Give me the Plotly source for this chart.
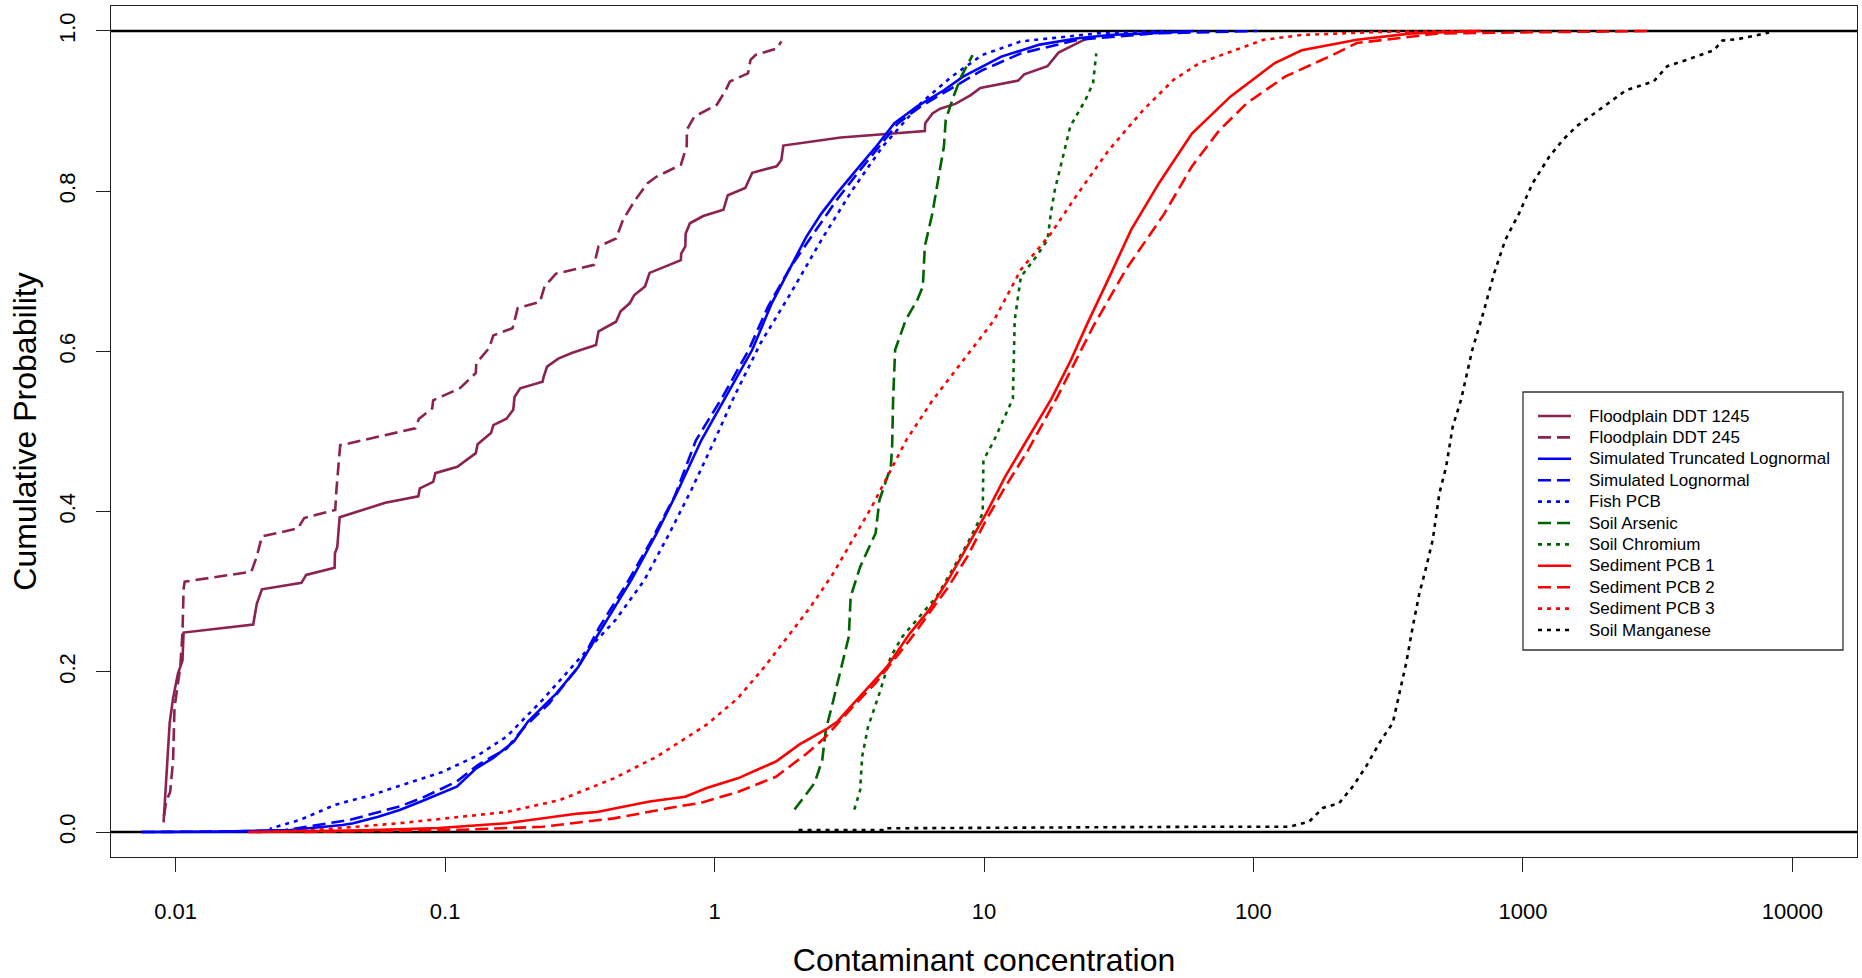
import plotly.graph_objects as go

# ---------------------------------------------------------------------------
# Empirical cumulative distributions: concentration vs. cumulative probability
# ---------------------------------------------------------------------------
ddt1245_conc = [0.00902, 0.0091, 0.00936, 0.0095, 0.00978, 0.0102, 0.0106, 0.0107,
                0.0194, 0.0200, 0.0209, 0.0293, 0.0305, 0.0389, 0.0390, 0.0398, 0.0406,
                0.0600, 0.0795, 0.0806, 0.0903, 0.0920, 0.1110, 0.130, 0.132, 0.148,
                0.151, 0.169, 0.179, 0.181, 0.190, 0.230, 0.232, 0.239, 0.263, 0.295,
                0.363, 0.371, 0.431, 0.448, 0.484, 0.503, 0.552, 0.574, 0.750, 0.752,
                0.779, 0.781, 0.810, 0.908, 1.079, 1.12, 1.30, 1.38, 1.70, 1.77, 1.80,
                2.94, 6.03, 6.05, 6.44, 6.87, 7.83, 8.93, 9.69, 13.4, 14.1, 17.2, 18.9,
                24.2]
ddt1245_prob = [0.012, 0.035, 0.105, 0.136, 0.167, 0.198, 0.214, 0.249,
                0.259, 0.285, 0.303, 0.311, 0.321, 0.330, 0.348, 0.356, 0.393,
                0.411, 0.419, 0.429, 0.437, 0.448, 0.456, 0.473, 0.484, 0.498,
                0.508, 0.516, 0.527, 0.543, 0.554, 0.562, 0.568, 0.581, 0.591, 0.598,
                0.608, 0.625, 0.637, 0.650, 0.660, 0.670, 0.681, 0.698, 0.714, 0.722,
                0.731, 0.747, 0.760, 0.769, 0.777, 0.795, 0.804, 0.823, 0.831, 0.839, 0.857,
                0.867, 0.875, 0.885, 0.897, 0.903, 0.909, 0.920, 0.929, 0.938, 0.946, 0.956, 0.973,
                0.991]

ddt245_conc = [0.00905, 0.00923, 0.00954, 0.00978, 0.0099, 0.0104, 0.0106, 0.0107, 0.0108,
               0.0191, 0.0200, 0.0209, 0.0284, 0.0300, 0.0391, 0.0395, 0.0408, 0.0438,
               0.0775, 0.0800, 0.0896, 0.0903, 0.1135, 0.130, 0.1305, 0.1455, 0.151,
               0.178, 0.186, 0.225, 0.234, 0.258, 0.357, 0.371, 0.431, 0.457, 0.503,
               0.564, 0.608, 0.750, 0.788, 0.790, 0.841, 1.02, 1.10, 1.14, 1.33, 1.36,
               1.42, 1.70, 1.77]
ddt245_prob = [0.020, 0.039, 0.050, 0.089, 0.155, 0.206, 0.249, 0.303, 0.3125,
               0.325, 0.344, 0.369, 0.379, 0.392, 0.402, 0.427, 0.483, 0.485,
               0.504, 0.516, 0.529, 0.539, 0.554, 0.573, 0.585, 0.604, 0.620,
               0.629, 0.654, 0.662, 0.681, 0.697, 0.708, 0.731, 0.741, 0.764, 0.787,
               0.810, 0.818, 0.833, 0.856, 0.877, 0.893, 0.908, 0.926, 0.937, 0.947, 0.964,
               0.970, 0.978, 0.987]

trunc_lognorm_conc = [0.0075, 0.015, 0.0267, 0.0416, 0.0456, 0.0565, 0.0678, 0.0814,
                      0.1105, 0.1305, 0.150, 0.180, 0.203, 0.259, 0.312, 0.398, 0.492,
                      0.610, 0.733, 0.893, 1.10, 1.38, 1.63, 1.92, 2.19, 2.49, 2.84,
                      3.35, 3.94, 4.65, 5.65, 7.10, 8.36, 11.6, 16.1, 22.3, 29.2, 46.8, 60.0]
trunc_lognorm_prob = [0.0, 0.0005, 0.0025, 0.0087, 0.011, 0.019, 0.0275, 0.038,
                      0.0566, 0.0795, 0.092, 0.113, 0.138, 0.173, 0.206, 0.265, 0.315,
                      0.373, 0.427, 0.489, 0.543, 0.602, 0.660, 0.706, 0.743, 0.772, 0.797,
                      0.826, 0.854, 0.885, 0.906, 0.926, 0.943, 0.968, 0.983, 0.991, 0.995, 0.998, 1.0]

lognorm_conc = [0.0075, 0.015, 0.025, 0.0442, 0.0678, 0.0814, 0.1105, 0.1327, 0.169,
                0.197, 0.244, 0.312, 0.374, 0.464, 0.574, 0.711, 0.853, 1.07, 1.34,
                1.58, 1.92, 2.34, 2.84, 3.46, 4.08, 4.80, 5.83, 7.58, 9.85, 13.7, 22.3,
                42.9, 103.0]
lognorm_prob = [0.0, 0.0005, 0.002, 0.015, 0.032, 0.042, 0.063, 0.084, 0.104,
                0.131, 0.161, 0.206, 0.256, 0.306, 0.360, 0.419, 0.489, 0.543, 0.602,
                0.656, 0.706, 0.748, 0.789, 0.826, 0.856, 0.885, 0.906, 0.929, 0.951, 0.972, 0.989,
                0.997, 1.0]

fish_pcb_conc = [0.0223, 0.0226, 0.0289, 0.0391, 0.0531, 0.0721, 0.0977, 0.1327, 0.169,
                 0.230, 0.312, 0.43, 0.55, 0.68, 0.82, 1.0, 1.18, 1.48, 1.92, 2.49,
                 3.24, 4.21, 5.12, 5.83, 7.58, 9.85, 13.7, 26.3, 47.0]
fish_pcb_prob = [0.001, 0.0046, 0.015, 0.034, 0.046, 0.061, 0.075, 0.096, 0.119,
                 0.165, 0.215, 0.265, 0.315, 0.373, 0.427, 0.489, 0.543, 0.610, 0.673, 0.739,
                 0.801, 0.856, 0.889, 0.910, 0.943, 0.970, 0.987, 0.997, 1.0]

arsenic_conc = [1.98, 2.35, 2.51, 2.59, 2.72, 2.95, 3.15, 3.20, 3.36, 3.47, 3.96, 4.09,
                4.51, 4.56, 4.60, 4.68, 5.12, 5.65, 5.93, 6.03, 6.43, 6.87, 7.10, 7.21,
                7.70, 8.23, 9.07]
arsenic_prob = [0.028, 0.061, 0.090, 0.128, 0.156, 0.206, 0.244, 0.294, 0.315, 0.331, 0.373, 0.414,
                0.456, 0.481, 0.541, 0.602, 0.639, 0.664, 0.681, 0.731, 0.772, 0.831, 0.856, 0.889,
                0.918, 0.943, 0.970]

chromium_conc = [3.30, 3.47, 3.53, 3.71, 4.09, 4.30, 4.51, 4.98, 5.86, 6.68, 7.62, 8.68,
                 9.89, 9.95, 10.9, 12.8, 13.0, 13.7, 15.6, 17.2, 17.7, 18.3, 19.9, 20.9,
                 23.8, 25.4, 26.1]
chromium_prob = [0.028, 0.052, 0.094, 0.131, 0.173, 0.198, 0.219, 0.244, 0.271, 0.294, 0.327, 0.360,
                 0.398, 0.464, 0.489, 0.541, 0.639, 0.693, 0.718, 0.739, 0.772, 0.801, 0.851, 0.881,
                 0.914, 0.935, 0.972]

sed_pcb1_conc = [0.0186, 0.05, 0.095, 0.169, 0.312, 0.366, 0.574, 0.778, 0.935, 1.22, 1.69,
                 2.06, 2.59, 2.86, 3.25, 3.96, 4.36, 5.31, 6.25, 7.37, 8.68, 10.2, 12.0,
                 14.2, 17.8, 21.0, 24.2, 29.2, 35.2, 44.6, 59.1, 82.1, 120.0, 151.0, 242.0,
                 387.0, 679.0]
sed_pcb1_prob = [0.0, 0.002, 0.005, 0.011, 0.023, 0.025, 0.038, 0.044, 0.055, 0.067, 0.088,
                 0.109, 0.128, 0.138, 0.159, 0.190, 0.206, 0.248, 0.277, 0.315, 0.356, 0.398, 0.444,
                 0.485, 0.541, 0.589, 0.635, 0.693, 0.752, 0.810, 0.872, 0.918, 0.960, 0.976, 0.989,
                 0.997, 1.0]

sed_pcb2_conc = [0.03, 0.12, 0.230, 0.423, 0.733, 0.88, 1.22, 1.69, 2.20, 2.59, 3.25, 3.96,
                 5.31, 6.25, 7.37, 8.68, 10.2, 12.0, 14.6, 18.7, 25.4, 33.6, 46.7, 59.1,
                 74.7, 94.6, 131.0, 191.0, 242.0, 489.0, 2900.0]
sed_pcb2_prob = [0.0, 0.003, 0.0066, 0.017, 0.032, 0.036, 0.050, 0.069, 0.098, 0.119, 0.156, 0.186,
                 0.240, 0.273, 0.306, 0.344, 0.390, 0.431, 0.477, 0.543, 0.631, 0.702, 0.772, 0.831,
                 0.876, 0.910, 0.943, 0.968, 0.985, 0.997, 1.0]

sed_pcb3_conc = [0.02, 0.033, 0.0678, 0.169, 0.267, 0.423, 0.610, 0.935, 1.22, 1.53, 1.87,
                 2.27, 2.76, 3.25, 3.83, 4.51, 5.14, 6.44, 8.36, 10.9, 13.7, 17.7, 22.3,
                 29.0, 38.9, 50.5, 63.1, 86.1, 109.0, 151.0, 305.0, 700.0]
sed_pcb3_prob = [0.0, 0.0025, 0.011, 0.025, 0.040, 0.067, 0.094, 0.134, 0.167, 0.206, 0.244,
                 0.281, 0.323, 0.365, 0.406, 0.452, 0.489, 0.539, 0.589, 0.639, 0.702, 0.747, 0.797,
                 0.851, 0.901, 0.939, 0.960, 0.976, 0.989, 0.995, 0.999, 1.0]

manganese_conc = [2.05, 4.20, 4.22, 16.2, 66.9, 136.0, 161.0, 181.0, 208.0, 234.0, 262.0,
                  298.0, 329.0, 348.0, 369.0, 390.0, 413.0, 438.0, 463.0, 490.0, 519.0,
                  549.0, 590.0, 649.0, 713.0, 783.0, 860.0, 967.0, 1087.0, 1252.0, 1407.0,
                  1582.0, 2000.0, 2415.0, 3055.0, 3436.0, 4050.0, 5120.0, 5495.0, 6320.0, 8200.0]
manganese_prob = [0.0025, 0.0025, 0.0046, 0.006, 0.0066, 0.0066, 0.013, 0.030, 0.036, 0.057, 0.082,
                  0.115, 0.136, 0.173, 0.211, 0.256, 0.298, 0.331, 0.365, 0.423, 0.456,
                  0.506, 0.540, 0.602, 0.648, 0.698, 0.739, 0.772, 0.810, 0.843, 0.864,
                  0.881, 0.906, 0.926, 0.937, 0.956, 0.964, 0.976, 0.988, 0.990, 0.998]

x_tick_values = [0.01, 0.1, 1, 10, 100, 1000, 10000]
x_tick_labels = ["0.01", "0.1", "1", "10", "100", "1000", "10000"]
y_tick_values = [0.0, 0.2, 0.4, 0.6, 0.8, 1.0]
y_tick_labels = ["0.0", "0.2", "0.4", "0.6", "0.8", "1.0"]

# ---------------------------------------------------------------------------
# Styling
# ---------------------------------------------------------------------------
PURPLE = "#8B2252"
BLUE = "#0000FF"
GREEN = "#006400"
RED = "#FF0000"
BLACK = "#000000"
SOLID = "solid"
DASHED = "13px,6px"
DOTTED = "4px,5px"
LINE_W = 2.6
FONT = "Liberation Sans, Arial, Helvetica, sans-serif"

series = [
    ("Floodplain DDT 1245", ddt1245_conc, ddt1245_prob, PURPLE, SOLID),
    ("Floodplain DDT 245", ddt245_conc, ddt245_prob, PURPLE, DASHED),
    ("Simulated Truncated Lognormal", trunc_lognorm_conc, trunc_lognorm_prob, BLUE, SOLID),
    ("Simulated Lognormal", lognorm_conc, lognorm_prob, BLUE, DASHED),
    ("Fish PCB", fish_pcb_conc, fish_pcb_prob, BLUE, DOTTED),
    ("Soil Arsenic", arsenic_conc, arsenic_prob, GREEN, DASHED),
    ("Soil Chromium", chromium_conc, chromium_prob, GREEN, DOTTED),
    ("Sediment PCB 1", sed_pcb1_conc, sed_pcb1_prob, RED, SOLID),
    ("Sediment PCB 2", sed_pcb2_conc, sed_pcb2_prob, RED, DASHED),
    ("Sediment PCB 3", sed_pcb3_conc, sed_pcb3_prob, RED, DOTTED),
    ("Soil Manganese", manganese_conc, manganese_prob, BLACK, DOTTED),
]

W, H = 1862, 978
M_L, M_R, M_T, M_B = 111, 5, 6, 121
PLOT_W = W - M_L - M_R
PLOT_H = H - M_T - M_B


def px_x(px):
    """Page pixel column -> paper x fraction."""
    return (px - M_L) / PLOT_W


def px_y(py):
    """Page pixel row -> paper y fraction."""
    return (H - M_B - py) / PLOT_H


fig = go.Figure()
for name, conc, prob, color, dash in series:
    fig.add_trace(go.Scatter(
        x=conc, y=prob, mode="lines", name=name, showlegend=False,
        line=dict(color=color, width=LINE_W, dash=dash),
    ))

# Reference lines at probability 0 and 1
shapes = []
for level in (0.0, 1.0):
    shapes.append(dict(type="line", xref="paper", yref="y", x0=0, x1=1, y0=level, y1=level,
                       line=dict(color="black", width=2.6), layer="below"))

# Legend box drawn in the upper-right part of the plot
annotations = []
LEG_L, LEG_R, LEG_T, LEG_B = 1523, 1843, 392, 650
shapes.append(dict(type="rect", xref="paper", yref="paper",
                   x0=px_x(LEG_L), x1=px_x(LEG_R), y0=px_y(LEG_B), y1=px_y(LEG_T),
                   line=dict(color="#333333", width=1.3), fillcolor="white", layer="above"))
ROW0, ROW_STEP = 416, 21.4
for i, (name, _, _, color, dash) in enumerate(series):
    row = ROW0 + ROW_STEP * i
    shapes.append(dict(type="line", xref="paper", yref="paper",
                       x0=px_x(1538), x1=px_x(1571), y0=px_y(row), y1=px_y(row),
                       line=dict(color=color, width=LINE_W, dash=dash), layer="above"))
    annotations.append(dict(text=name, xref="paper", yref="paper", x=px_x(1587), y=px_y(row),
                            xanchor="left", yanchor="middle", showarrow=False,
                            font=dict(family=FONT, size=17, color="black")))

axis_common = dict(
    automargin=False,
    showgrid=False, zeroline=False, showline=True, mirror=True,
    linecolor="#222222", linewidth=1.3,
    ticks="outside", ticklen=14, tickwidth=1.2, tickcolor="#222222",
    tickfont=dict(family=FONT, size=22, color="black"),
)

fig.update_layout(
    width=W, height=H, autosize=False,
    margin=dict(l=M_L, r=M_R, t=M_T, b=M_B, pad=0, autoexpand=False),
    paper_bgcolor="white", plot_bgcolor="white",
    showlegend=False,
    shapes=shapes, annotations=annotations,
    xaxis=dict(
        type="log", range=[-2.24, 4.24],
        tickvals=x_tick_values, ticktext=x_tick_labels,
        ticklabelstandoff=20,
        title=dict(text="Contaminant concentration",
                   font=dict(family=FONT, size=32, color="black"), standoff=30),
        **axis_common,
    ),
    yaxis=dict(
        range=[-0.0312, 1.0312],
        tickvals=y_tick_values, ticktext=y_tick_labels, tickangle=-90,
        ticklabelstandoff=12,
        title=dict(text="Cumulative Probability",
                   font=dict(family=FONT, size=32, color="black"), standoff=8),
        **axis_common,
    ),
)

fig.write_html("out.html")
